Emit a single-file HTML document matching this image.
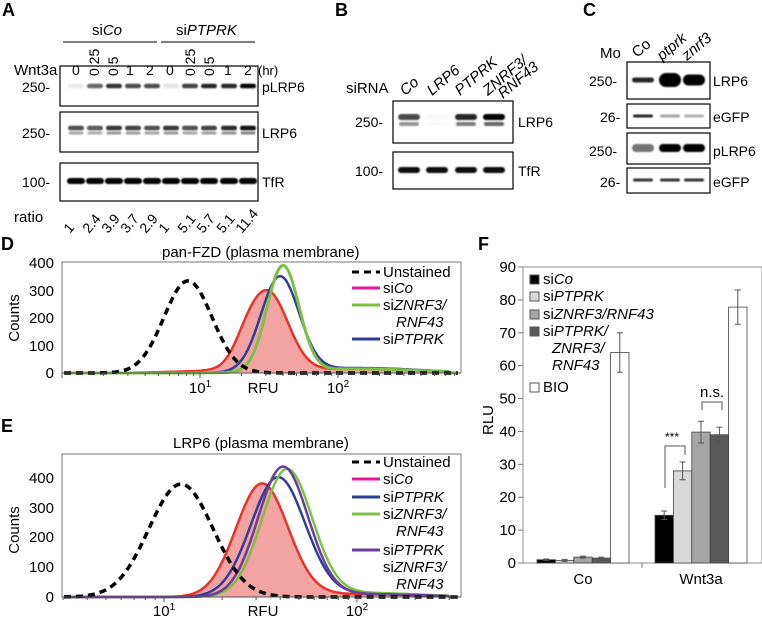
<!DOCTYPE html>
<html><head><meta charset="utf-8">
<style>
html,body{margin:0;padding:0;background:#fff;}
svg{display:block;font-family:"Liberation Sans",Arial,sans-serif;}
.l{font-weight:bold;font-size:18px;}
.t{font-size:15px;}
.m{font-size:14px;}
.it{font-style:italic;}
</style></head>
<body>
<svg id="s" width="762" height="618" viewBox="0 0 762 618" xmlns="http://www.w3.org/2000/svg">
<defs><filter id="b" x="-20%" y="-100%" width="140%" height="300%"><feGaussianBlur stdDeviation="0.7"/></filter></defs>

<text class="l" x="2" y="16">A</text>
<text class="l" x="335" y="16">B</text>
<text class="l" x="583" y="16">C</text>
<text class="l" x="1" y="250">D</text>
<text class="l" x="1" y="432">E</text>
<text class="l" x="478" y="250">F</text>

<!-- Panel A -->
<text class="t" x="92" y="35">si<tspan class="it">Co</tspan></text>
<text class="t" x="176" y="35">si<tspan class="it">PTPRK</tspan></text>
<line x1="63" y1="42" x2="157" y2="42" stroke="#000"/>
<line x1="161" y1="42" x2="255" y2="42" stroke="#000"/>
<text class="t" x="14" y="75">Wnt3a</text>
<g class="m">
<text x="72" y="75">0</text><text x="126" y="75">1</text><text x="146" y="75">2</text>
<text x="166" y="75">0</text><text x="224" y="75">1</text><text x="244" y="75">2</text>
<text transform="translate(99,76) rotate(-90)">0.25</text>
<text transform="translate(118,76) rotate(-90)">0.5</text>
<text transform="translate(195,76) rotate(-90)">0.25</text>
<text transform="translate(214,76) rotate(-90)">0.5</text>
<text x="258" y="75" font-size="13">(hr)</text>
</g>
<g fill="none" stroke="#000" stroke-width="1.2">
<rect x="60" y="66" width="198" height="40"/>
<rect x="60" y="112" width="198" height="40"/>
<rect x="60" y="163" width="198" height="38"/>
</g>
<g class="m">
<text x="22" y="92">250-</text><text x="22" y="138">250-</text><text x="22" y="187">100-</text>
<text x="262" y="92">pLRP6</text><text x="262" y="138">LRP6</text><text x="262" y="187">TfR</text>
</g>
<g id="bandsA" filter="url(#b)"></g>
<text class="t" x="14" y="222">ratio</text>
<g class="m" id="ratios"></g>

<!-- Panel B -->
<text class="t" x="346" y="93">siRNA</text>
<g class="t">
<text transform="translate(405,96) rotate(-40)" class="it">Co</text>
<text transform="translate(432,96) rotate(-40)" class="it">LRP6</text>
<text transform="translate(460,96) rotate(-40)" class="it">PTPRK</text>
<text transform="translate(488,96) rotate(-40)" class="it">ZNRF3/</text>
<text transform="translate(503,99) rotate(-40)" class="it">RNF43</text>
</g>
<g fill="none" stroke="#000" stroke-width="1.2">
<rect x="393" y="101" width="120" height="42"/>
<rect x="393" y="152" width="120" height="37"/>
</g>
<g class="m"><text x="355" y="127">250-</text><text x="355" y="176">100-</text>
<text x="518" y="127">LRP6</text><text x="518" y="176">TfR</text></g>
<g id="bandsB" filter="url(#b)"></g>

<!-- Panel C -->
<text class="t" x="600" y="58">Mo</text>
<g class="t">
<text transform="translate(637,58) rotate(-40)">Co</text>
<text transform="translate(662,61) rotate(-40)" class="it">ptprk</text>
<text transform="translate(687,61) rotate(-40)" class="it">znrf3</text>
</g>
<g fill="none" stroke="#000" stroke-width="1.2">
<rect x="627" y="62" width="83" height="37"/>
<rect x="627" y="104" width="83" height="24"/>
<rect x="627" y="133" width="83" height="31"/>
<rect x="627" y="168" width="83" height="25"/>
</g>
<g class="m"><text x="589" y="86">250-</text><text x="600" y="122">26-</text><text x="589" y="156">250-</text><text x="600" y="187">26-</text>
<text x="713" y="86">LRP6</text><text x="713" y="122">eGFP</text><text x="713" y="156">pLRP6</text><text x="713" y="187">eGFP</text></g>
<g id="bandsC" filter="url(#b)"></g>

<!-- Panel D -->
<text class="t" x="162" y="257">pan-FZD (plasma membrane)</text>
<rect x="62" y="262" width="399" height="111" fill="none" stroke="#555" stroke-width="0.8"/>
<g id="histD"></g>
<line x1="62" y1="373" x2="461" y2="373" stroke="#555"/>
<g id="ticksD"></g>
<g class="t" text-anchor="end">
<text x="54" y="268">400</text><text x="54" y="296">300</text><text x="54" y="323">200</text><text x="54" y="351">100</text><text x="54" y="378">0</text>
</g>
<text class="t" transform="translate(19,318) rotate(-90)" text-anchor="middle">Counts</text>
<g class="t" text-anchor="middle"><text x="200" y="393">10<tspan font-size="10" dy="-6">1</tspan></text><text x="263" y="393">RFU</text><text x="338" y="393">10<tspan font-size="10" dy="-6">2</tspan></text></g>
<g stroke-width="3">
<line x1="352" y1="272" x2="380" y2="272" stroke="#000" stroke-dasharray="7,5"/>
<line x1="352" y1="288" x2="380" y2="288" stroke="#e5179b"/>
<line x1="352" y1="305" x2="380" y2="305" stroke="#7cc142"/>
<line x1="352" y1="339" x2="380" y2="339" stroke="#2e3f99"/>
</g>
<g class="t"><text x="383" y="277">Unstained</text><text x="383" y="293">si<tspan class="it">Co</tspan></text>
<text x="383" y="310">si<tspan class="it">ZNRF3/</tspan></text><text x="396" y="327" class="it">RNF43</text><text x="383" y="344">si<tspan class="it">PTPRK</tspan></text></g>

<!-- Panel E -->
<text class="t" x="173" y="448">LRP6 (plasma membrane)</text>
<rect x="62" y="454" width="399" height="143" fill="none" stroke="#555" stroke-width="0.8"/>
<g id="histE"></g>
<line x1="62" y1="597" x2="461" y2="597" stroke="#555"/>
<g id="ticksE"></g>
<g class="t" text-anchor="end">
<text x="54" y="483">400</text><text x="54" y="513">300</text><text x="54" y="542">200</text><text x="54" y="572">100</text><text x="54" y="602">0</text>
</g>
<text class="t" transform="translate(19,530) rotate(-90)" text-anchor="middle">Counts</text>
<g class="t" text-anchor="middle"><text x="164" y="616">10<tspan font-size="10" dy="-6">1</tspan></text><text x="263" y="616">RFU</text><text x="357" y="616">10<tspan font-size="10" dy="-6">2</tspan></text></g>
<g stroke-width="3">
<line x1="352" y1="462" x2="380" y2="462" stroke="#000" stroke-dasharray="7,5"/>
<line x1="352" y1="479" x2="380" y2="479" stroke="#e5179b"/>
<line x1="352" y1="497" x2="380" y2="497" stroke="#2e3f99"/>
<line x1="352" y1="514" x2="380" y2="514" stroke="#7cc142"/>
<line x1="352" y1="550" x2="380" y2="550" stroke="#6a3d9a"/>
</g>
<g class="t"><text x="383" y="467">Unstained</text><text x="383" y="484">si<tspan class="it">Co</tspan></text>
<text x="383" y="502">si<tspan class="it">PTPRK</tspan></text><text x="383" y="519">si<tspan class="it">ZNRF3/</tspan></text><text x="396" y="536" class="it">RNF43</text>
<text x="383" y="555">si<tspan class="it">PTPRK</tspan></text><text x="383" y="572">si<tspan class="it">ZNRF3/</tspan></text><text x="396" y="589" class="it">RNF43</text></g>

<!-- Panel F -->
<rect x="523" y="267" width="239" height="296" fill="none" stroke="#777" stroke-width="0.8"/>
<g id="F"></g>
<text class="t" transform="translate(493,420) rotate(-90)" text-anchor="middle">RLU</text>
<g class="t" text-anchor="middle"><text x="583" y="584">Co</text><text x="701" y="584">Wnt3a</text></g>
<g class="t">
<rect x="530" y="275" width="9" height="9" fill="#000" stroke="#555"/><text x="543" y="284">si<tspan class="it">Co</tspan></text>
<rect x="530" y="292" width="9" height="9" fill="#d9d9d9" stroke="#555"/><text x="543" y="301">si<tspan class="it">PTPRK</tspan></text>
<rect x="530" y="310" width="9" height="9" fill="#a6a6a6" stroke="#555"/><text x="543" y="319">si<tspan class="it">ZNRF3/RNF43</tspan></text>
<rect x="530" y="327" width="9" height="9" fill="#595959" stroke="#555"/><text x="543" y="336">si<tspan class="it">PTPRK/</tspan></text>
<text x="552" y="353" class="it">ZNRF3/</text><text x="552" y="370" class="it">RNF43</text>
<rect x="530" y="383" width="9" height="9" fill="#fff" stroke="#555"/><text x="543" y="392">BIO</text>
</g>
<text x="665" y="441" font-size="12">***</text>
<text class="t" x="700" y="397">n.s.</text>
<path d="M665,488 V446 H685 V455 M702,410 V402 H722 V410" fill="none" stroke="#555"/>
</svg>
<script>
var NS="http://www.w3.org/2000/svg";
function el(p,tag,a){var e=document.createElementNS(NS,tag);for(var k in a)e.setAttribute(k,a[k]);p.appendChild(e);return e;}
function band(g,x,y,w,h,o){el(g,"rect",{x:x-w/2,y:y-h/2,width:w,height:h,rx:h/2,fill:"#000","fill-opacity":o});}
var gA=document.getElementById("bandsA");
var lx=[76,95,114,133,152,171,190,209,229,248];
var pOp=[0.08,0.6,0.8,0.7,0.7,0.1,0.75,0.85,0.85,1];
var lOp=[0.7,0.65,0.8,0.75,0.7,0.8,0.7,0.75,0.85,0.95];
lx.forEach(function(x,i){
 band(gA,x,86,16,4.5,pOp[i]);
 band(gA,x,128,16,4.5,lOp[i]); band(gA,x,133,15,3,lOp[i]*0.5);
 band(gA,x,181,18,6,1);
});
var rt=["1","2.4","3.9","3.7","2.9","1","5.1","5.7","5.1","11.4"];
var gr=document.getElementById("ratios");
lx.forEach(function(x,i){var t=el(gr,"text",{transform:"translate("+(x-6)+",234) rotate(-50)"});t.textContent=rt[i];});
var gB=document.getElementById("bandsB");
[[409,0.7],[437,0.03],[466,0.85],[494,1]].forEach(function(a){
 band(gB,a[0],117,22,6,a[1]); band(gB,a[0],124,20,4,a[1]*0.6);
 band(gB,a[0],170,22,6,0.95);
});
var gC=document.getElementById("bandsC");
[[643,0.85,5,0.85,0.55],[670,1,14,0.35,1],[694,1,11,0.3,1]].forEach(function(a){
 band(gC,a[0],80,22,a[2],a[1]); band(gC,a[0],116,20,3,a[3]);
 band(gC,a[0],148,22,8,a[4]); band(gC,a[0],180,20,3,0.8);
});
function gauss(x,m,s){return Math.exp(-0.5*Math.pow((x-m)/s,2));}
function curve(f,x0,x1,base,sc){var d="";for(var x=x0;x<=x1;x+=2){var y=base-sc*f(x);d+=(x==x0?"M":"L")+x+","+y.toFixed(1);}return d;}
function hist(id,base,sc,series){
 var g=document.getElementById(id);
 series.forEach(function(s){
  var d=curve(s.f,64,459,base,sc);
  if(s.fill){el(g,"path",{d:d+"L459,"+base+"L64,"+base+"Z",fill:"#f4a3a3",stroke:"none"});}
  el(g,"path",{d:d,fill:"none",stroke:s.c,"stroke-width":s.w||2.5,"stroke-dasharray":s.dash||"none"});
 });
}
function tail(x,a){return (x>200&&x<450)?a*gauss(x,360,60):0;}
hist("histD",373,0.275,[
 {f:function(x){return 285*gauss(x,268,20)+40*gauss(x,245,12)+tail(x,15)+8*gauss(x,220,45);},c:"#e8332b",fill:1},
 {f:function(x){return 345*gauss(x,280,19)+tail(x,18);},c:"#2e3f99"},
 {f:function(x){return 385*gauss(x,283,16)+tail(x,15);},c:"#7cc142",w:3},
 {f:function(x){return 335*gauss(x,188,24);},c:"#000",w:3.5,dash:"7,5"}
]);
hist("histE",597,0.297,[
 {f:function(x){return 380*gauss(x,262,26)+tail(x,10);},c:"#e8332b",fill:1},
 {f:function(x){return 400*gauss(x,278,27)+tail(x,10);},c:"#2e3f99"},
 {f:function(x){return 425*gauss(x,287,25)+tail(x,14);},c:"#7cc142"},
 {f:function(x){return 435*gauss(x,283,25)+tail(x,10);},c:"#6a3d9a"},
 {f:function(x){return 380*gauss(x,181,32);},c:"#000",w:3.5,dash:"7,5"}
]);
function logticks(id,base,d10,dec){var g=document.getElementById(id);
 for(var e=-1;e<=2;e++)for(var m=1;m<10;m++){var x=d10+(e-1+Math.log10(m))*dec;if(x<62||x>461)continue;
  el(g,"line",{x1:x,x2:x,y1:base,y2:base+(m==1?5:3),stroke:"#555"});}}
logticks("ticksD",373,200,138);
logticks("ticksE",597,164,193);
var gF=document.getElementById("F");
function Y(v){return 563-v*296/90;}
for(var v=0;v<=90;v+=10){el(gF,"line",{x1:518,x2:523,y1:Y(v),y2:Y(v),stroke:"#777"});var t=el(gF,"text",{x:516,y:Y(v)+5,"text-anchor":"end","font-size":"15"});t.textContent=v;}
el(gF,"line",{x1:642,x2:642,y1:563,y2:568,stroke:"#777"});
var cols=["#000","#d9d9d9","#a6a6a6","#595959","#fff"];
var data=[[537,[1,0.8,1.8,1.5,64],[0.2,0.3,0.3,0.3,6]],[655,[14.5,28,39.8,39,77.8],[1.3,2.7,3.3,2.3,5.2]]];
data.forEach(function(g){for(var i=0;i<5;i++){var x=g[0]+i*18.4,v=g[1][i],e=g[2][i];
 el(gF,"rect",{x:x,y:Y(v),width:18.4,height:563-Y(v),fill:cols[i],stroke:"#444","stroke-width":0.8});
 var cx=x+9.2;el(gF,"path",{d:"M"+cx+","+Y(v+e)+"V"+Y(v-e)+"M"+(cx-3)+","+Y(v+e)+"h6M"+(cx-3)+","+Y(v-e)+"h6",stroke:"#555",fill:"none"});}});
</script>
</body></html>
